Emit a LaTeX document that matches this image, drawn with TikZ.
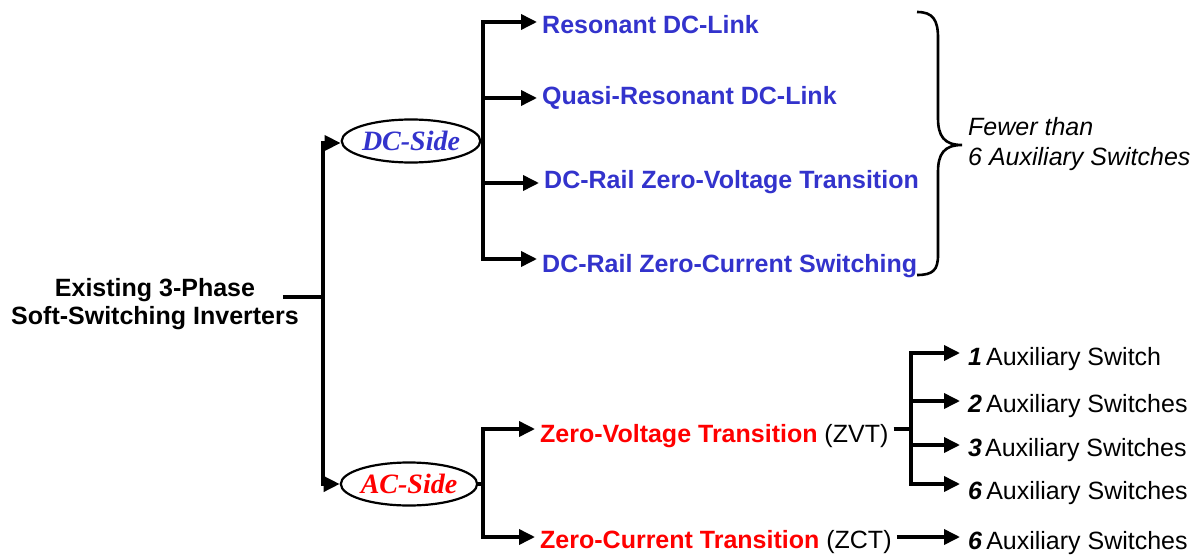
\documentclass[tikz,border=0pt]{standalone}
\usepackage{fontspec}
\setmainfont{Liberation Sans}
\newfontfamily\timesf{Liberation Serif}
\usetikzlibrary{shapes.geometric,arrows.meta}
\definecolor{dcblue}{RGB}{51,51,204}
\definecolor{acred}{RGB}{255,0,0}
\tikzset{
  wire/.style={line width=3.6pt},
  arr/.style={line width=3.6pt,-{Triangle[length=16pt,width=15pt]}},
  lbl/.style={anchor=west,inner xsep=5pt,inner ysep=0pt,font=\fontsize{25}{30}\selectfont,text height=17pt,text depth=5pt},
  auxlbl/.style={lbl,inner xsep=8pt},
  bluelbl/.style={lbl,text=dcblue,font=\fontsize{25}{30}\selectfont\bfseries},
  side/.style={ellipse,draw,line width=2.2pt,minimum width=111pt,minimum height=43pt,inner sep=0pt,font=\timesf\fontsize{28}{30}\selectfont\bfseries\itshape},
}
\begin{document}
\begin{tikzpicture}[x=1pt,y=-1pt]
\useasboundingbox (0,0) rectangle (1202,556);
% root
\node[align=center,font=\fontsize{25}{28}\selectfont\bfseries,inner sep=0pt] (root) at (155,304) {Existing 3-Phase\\Soft-Switching Inverters};
\node[side,text=dcblue] (dc) at (411,141) {DC-Side};
\node[side,text=acred] (ac) at (409,484) {AC-Side};
\draw[wire] ([xshift=-16pt,yshift=7pt]root.east) -- ++(40,0) coordinate (rootbus);
\draw[arr] (rootbus) |- ([yshift=-2pt]dc.west);
\draw[arr] (rootbus) |- (ac.west);
% DC side
\coordinate (dcbus) at (483,141);
\node[bluelbl] (res) at (537,28) {Resonant DC-Link};
\node[bluelbl] (qres) at (537,99) {Quasi-Resonant DC-Link};
\node[bluelbl] (dczvt) at (539,183) {DC-Rail Zero-Voltage Transition};
\node[bluelbl] (dczcs) at (537,266) {DC-Rail Zero-Current Switching};
\draw[wire] (dc.east) -- (dcbus);
\draw[arr] (dcbus) |- ([yshift=6pt]res.west);
\draw[arr] (dcbus) |- ([yshift=1pt]qres.west);
\draw[arr] (dcbus) |- (dczvt.west);
\draw[arr] (dcbus) |- ([yshift=7pt]dczcs.west);
% brace
\draw[line width=2.6pt] (917,12) .. controls (933,12) and (938,20) .. (938,38) -- (938,118)
  .. controls (938,136) and (944,145) .. (962,145)
  .. controls (944,145) and (938,154) .. (938,172) -- (938,255)
  .. controls (938,270) and (933,275) .. (917,275);
\node[anchor=west,align=left,inner sep=0pt,font=\fontsize{25}{30}\selectfont\itshape] (fewer) at (968,144) {Fewer than\\6 Auxiliary Switches};
% AC side
\coordinate (acbus) at (483,484);
\node[lbl] (zvt) at (535,436) {\textcolor{acred}{\bfseries Zero-Voltage Transition} (ZVT)};
\node[lbl] (zct) at (535,542) {\textcolor{acred}{\bfseries Zero-Current Transition} (ZCT)};
\draw[wire] (ac.east) -- (acbus);
\draw[arr] (acbus) |- ([yshift=7pt]zvt.west);
\draw[arr] (acbus) |- ([yshift=5pt]zct.west);
% ZVT branches
\coordinate (zvbus) at (911,429);
\node[auxlbl] (a1) at (960,359) {\textbf{\itshape 1}\kern4pt Auxiliary Switch};
\node[auxlbl] (a2) at (960,406) {\textbf{\itshape 2}\kern4pt Auxiliary Switches};
\node[auxlbl] (a3) at (960,450) {\textbf{\itshape 3}\kern3pt Auxiliary Switches};
\node[auxlbl] (a6) at (960,493) {\textbf{\itshape 6}\kern4pt Auxiliary Switches};
\draw[wire] (zvt.east |- zvbus) -- (zvbus);
\draw[arr] (zvbus) |- ([yshift=6pt]a1.west);
\draw[arr] (zvbus) |- ([yshift=5pt]a2.west);
\draw[arr] (zvbus) |- ([yshift=5pt]a3.west);
\draw[arr] (zvbus) |- ([yshift=9pt]a6.west);
% ZCT branch
\node[auxlbl] (b6) at (960,543) {\textbf{\itshape 6}\kern4pt Auxiliary Switches};
\draw[arr] ([yshift=5pt]zct.east) -- ([yshift=6pt]b6.west);
\end{tikzpicture}
\end{document}
